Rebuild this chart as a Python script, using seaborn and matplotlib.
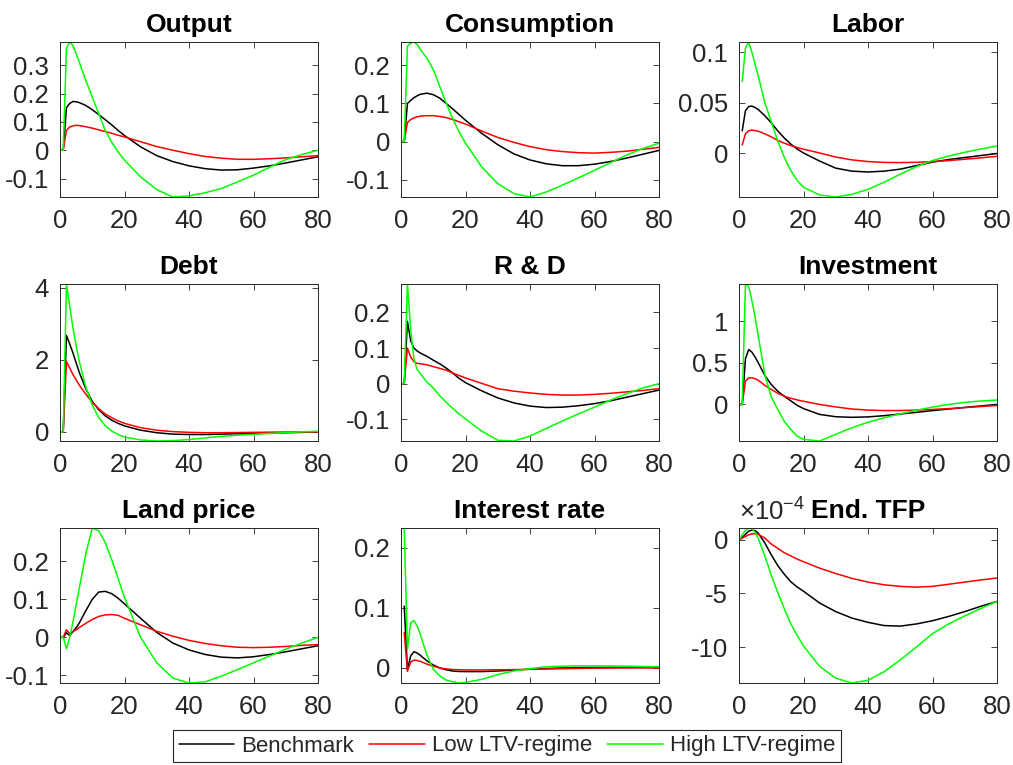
import numpy as np
import pandas as pd
import matplotlib
matplotlib.use("Agg")
import matplotlib.pyplot as plt
from matplotlib.lines import Line2D
from matplotlib import ticker
import seaborn as sns

nan = np.nan
T = [0, 1, 2, 3, 4, 5, 6, 8, 10, 12, 14, 16, 18, 20, 25, 30, 35, 40, 45, 50, 55, 60, 65, 70, 75, 80]
regimes = ["Benchmark", "Low LTV-regime", "High LTV-regime"]
colors = ["#000000", "#FF0000", "#00FF00"]

output_bench = [0, 0, 0.150, 0.165, 0.172, 0.171, 0.168, 0.158, 0.143, 0.126, 0.108, 0.090, 0.070, 0.052, 0.012, -0.019, -0.040, -0.055, -0.065, -0.070, -0.069, -0.063, -0.055, -0.045, -0.034, -0.023]
output_low = [0, 0, 0.070, 0.082, 0.086, 0.088, 0.087, 0.083, 0.078, 0.072, 0.066, 0.060, 0.053, 0.047, 0.030, 0.013, 0.000, -0.012, -0.022, -0.028, -0.032, -0.032, -0.030, -0.027, -0.023, -0.019]
output_high = [0, 0, 0.360, 0.382, 0.370, 0.341, 0.310, 0.247, 0.188, 0.129, 0.071, 0.029, -0.006, -0.035, -0.094, -0.139, -0.165, -0.161, -0.150, -0.135, -0.112, -0.088, -0.060, -0.033, -0.015, 0.000]

cons_bench = [0, 0, 0.100, 0.108, 0.115, 0.120, 0.124, 0.127, 0.123, 0.114, 0.100, 0.086, 0.071, 0.056, 0.022, -0.008, -0.032, -0.048, -0.058, -0.063, -0.063, -0.059, -0.052, -0.043, -0.033, -0.023]
cons_low = [0, 0, 0.050, 0.058, 0.062, 0.065, 0.067, 0.068, 0.068, 0.066, 0.063, 0.058, 0.052, 0.046, 0.028, 0.011, -0.002, -0.013, -0.021, -0.026, -0.029, -0.030, -0.028, -0.025, -0.020, -0.015]
cons_high = [0, 0, 0.250, 0.258, 0.261, 0.255, 0.241, 0.219, 0.189, 0.145, 0.101, 0.061, 0.026, -0.004, -0.066, -0.110, -0.136, -0.145, -0.132, -0.114, -0.095, -0.075, -0.055, -0.035, -0.018, -0.004]

labor_bench = [nan, 0.022, 0.042, 0.046, 0.0465, 0.045, 0.043, 0.037, 0.030, 0.022, 0.015, 0.009, 0.004, 0.000, -0.008, -0.015, -0.018, -0.0188, -0.018, -0.016, -0.0125, -0.009, -0.0065, -0.0045, -0.0025, -0.0005]
labor_low = [nan, 0.008, 0.019, 0.022, 0.0227, 0.0222, 0.0215, 0.019, 0.016, 0.0125, 0.0098, 0.0075, 0.0055, 0.0038, 0.000, -0.004, -0.0068, -0.0085, -0.0093, -0.0095, -0.0092, -0.0085, -0.0075, -0.0062, -0.0048, -0.0033]
labor_high = [nan, 0.071, 0.104, 0.110, 0.100, 0.088, 0.076, 0.050, 0.031, 0.012, -0.004, -0.017, -0.027, -0.034, -0.0415, -0.0436, -0.041, -0.036, -0.029, -0.021, -0.0135, -0.0075, -0.003, 0.0007, 0.004, 0.0069]

debt_bench = [0, 0, 2.68, 2.45, 2.20, 1.92, 1.65, 1.20, 0.85, 0.62, 0.45, 0.33, 0.24, 0.17, 0.05, -0.02, -0.06, -0.07, -0.07, -0.06, -0.05, -0.04, -0.03, -0.02, -0.01, 0.0]
debt_low = [0, 0, 1.95, 1.78, 1.60, 1.45, 1.30, 1.05, 0.82, 0.65, 0.50, 0.40, 0.31, 0.24, 0.12, 0.05, 0.01, -0.01, -0.02, -0.02, -0.015, -0.01, -0.005, 0.0, 0.0, 0.0]
debt_high = [0, 0, 4.11, 3.50, 2.90, 2.40, 1.95, 1.25, 0.75, 0.40, 0.18, 0.03, -0.07, -0.14, -0.22, -0.25, -0.24, -0.21, -0.165, -0.12, -0.09, -0.065, -0.04, -0.015, 0.005, 0.02]

rd_bench = [0, 0, 0.175, 0.120, 0.100, 0.092, 0.086, 0.077, 0.066, 0.056, 0.044, 0.030, 0.015, 0.003, -0.020, -0.040, -0.054, -0.063, -0.067, -0.066, -0.062, -0.056, -0.048, -0.038, -0.028, -0.018]
rd_low = [0, 0, 0.100, 0.075, 0.062, 0.057, 0.056, 0.053, 0.048, 0.043, 0.038, 0.030, 0.023, 0.016, 0.001, -0.014, -0.021, -0.026, -0.030, -0.032, -0.032, -0.030, -0.027, -0.023, -0.019, -0.014]
rd_high = [0, 0, 0.280, 0.150, 0.070, 0.040, 0.028, 0.005, -0.012, -0.034, -0.052, -0.069, -0.085, -0.099, -0.133, -0.159, -0.161, -0.147, -0.126, -0.105, -0.085, -0.066, -0.046, -0.028, -0.012, 0.000]

inv_bench = [0, 0, 0.55, 0.66, 0.63, 0.57, 0.50, 0.35, 0.24, 0.16, 0.10, 0.045, -0.01, -0.05, -0.12, -0.148, -0.155, -0.150, -0.135, -0.115, -0.095, -0.074, -0.055, -0.036, -0.018, 0.0]
inv_low = [0, 0, 0.28, 0.32, 0.32, 0.31, 0.29, 0.23, 0.18, 0.135, 0.10, 0.075, 0.055, 0.038, 0.0, -0.03, -0.055, -0.068, -0.073, -0.073, -0.068, -0.060, -0.050, -0.038, -0.025, -0.012]
inv_high = [0, 0, 1.45, 1.42, 1.25, 1.05, 0.82, 0.36, 0.09, -0.06, -0.20, -0.30, -0.38, -0.42, -0.44, -0.36, -0.28, -0.215, -0.16, -0.113, -0.07, -0.032, 0.0, 0.025, 0.042, 0.053]

land_bench = [0, 0, 0.012, 0.005, 0.015, 0.025, 0.038, 0.070, 0.100, 0.119, 0.121, 0.115, 0.103, 0.088, 0.050, 0.013, -0.015, -0.033, -0.045, -0.052, -0.054, -0.051, -0.045, -0.038, -0.030, -0.022]
land_low = [0, 0, 0.020, 0.010, 0.015, 0.020, 0.026, 0.037, 0.047, 0.055, 0.059, 0.060, 0.058, 0.050, 0.033, 0.016, 0.003, -0.008, -0.016, -0.022, -0.026, -0.027, -0.026, -0.024, -0.021, -0.019]
land_high = [0, 0, -0.030, 0.000, 0.040, 0.085, 0.130, 0.220, 0.2875, 0.280, 0.250, 0.205, 0.155, 0.105, 0.000, -0.067, -0.107, -0.120, -0.117, -0.102, -0.085, -0.067, -0.049, -0.031, -0.015, 0.000]

rate_bench = [nan, 0.103, -0.003, 0.020, 0.027, 0.025, 0.021, 0.012, 0.005, 0.000, -0.003, -0.005, -0.0058, -0.006, -0.006, -0.005, -0.0035, -0.002, -0.001, 0.0, 0.0005, 0.0008, 0.0009, 0.0009, 0.0008, 0.0007]
rate_low = [nan, 0.059, -0.0055, 0.010, 0.013, 0.0125, 0.011, 0.0065, 0.003, 0.000, -0.0015, -0.0025, -0.003, -0.0032, -0.0032, -0.003, -0.0027, -0.0022, -0.0017, -0.0012, -0.0007, -0.0003, 0.0, 0.0002, 0.0002, 0.0002]
rate_high = [nan, 0.233, 0.031, 0.075, 0.079, 0.070, 0.056, 0.022, -0.002, -0.013, -0.020, -0.023, -0.025, -0.024, -0.019, -0.011, -0.005, -0.001, 0.002, 0.003, 0.0035, 0.0035, 0.0033, 0.003, 0.0025, 0.002]

# End. TFP values, in units of 1e-4
tfp_bench = [0, 0.2, 0.5, 0.8, 0.9, 0.85, 0.6, -0.3, -1.4, -2.4, -3.2, -3.9, -4.4, -4.8, -5.9, -6.7, -7.3, -7.7, -8.0, -8.05, -7.85, -7.55, -7.15, -6.7, -6.2, -5.75]
tfp_low = [0, 0.15, 0.3, 0.45, 0.55, 0.55, 0.5, 0.15, -0.4, -0.8, -1.2, -1.5, -1.8, -2.05, -2.65, -3.15, -3.6, -3.95, -4.2, -4.35, -4.42, -4.35, -4.15, -3.95, -3.75, -3.57]
tfp_high = [0, 0.45, 0.85, 1.09, 1.0, 0.7, 0.1, -1.5, -3.3, -4.9, -6.4, -7.8, -8.9, -9.9, -11.8, -12.9, -13.35, -13.1, -12.3, -11.2, -10.0, -8.75, -7.85, -7.1, -6.4, -5.75]

titles = ["Output", "Consumption", "Labor", "Debt", "R & D", "Investment",
          "Land price", "Interest rate", "End. TFP"]
series = [
    (output_bench, output_low, output_high),
    (cons_bench, cons_low, cons_high),
    (labor_bench, labor_low, labor_high),
    (debt_bench, debt_low, debt_high),
    (rd_bench, rd_low, rd_high),
    (inv_bench, inv_low, inv_high),
    (land_bench, land_low, land_high),
    (rate_bench, rate_low, rate_high),
    (tfp_bench, tfp_low, tfp_high),
]
yticks = [
    [-0.1, 0, 0.1, 0.2, 0.3],
    [-0.1, 0, 0.1, 0.2],
    [0, 0.05, 0.1],
    [0, 2, 4],
    [-0.1, 0, 0.1, 0.2],
    [0, 0.5, 1],
    [-0.1, 0, 0.1, 0.2],
    [0, 0.1, 0.2],
    [-10, -5, 0],
]
xticks = [0, 20, 40, 60, 80]

sns.set_style("ticks")
plt.rcParams["font.family"] = ["Liberation Sans", "DejaVu Sans"]
plt.rcParams["axes.unicode_minus"] = False
plt.rcParams["mathtext.fontset"] = "custom"
plt.rcParams["mathtext.rm"] = "Liberation Sans"

W, H = 1013, 765
fig = plt.figure(figsize=(W / 100, H / 100), dpi=100)
fig.patch.set_facecolor("white")

col_left = [60, 401, 739]
row_top = [42, 284, 528]
row_bot = [197, 441, 683]
axw = 258
gray = "#262626"

def fmt(v, p):
    v = round(v, 10)
    if v == 0:
        return "0"
    return f"{v:g}"

for i in range(9):
    r, c = divmod(i, 3)
    left = col_left[c] / W
    bottom = 1 - row_bot[r] / H
    height = (row_bot[r] - row_top[r]) / H
    ax = fig.add_axes([left, bottom, axw / W, height])
    b, l, h = series[i]
    df = pd.DataFrame({
        "t": T * 3,
        "v": list(b) + list(l) + list(h),
        "regime": [regimes[0]] * len(T) + [regimes[1]] * len(T) + [regimes[2]] * len(T),
    }).dropna()
    sns.lineplot(data=df, x="t", y="v", hue="regime", hue_order=regimes,
                 palette=colors, estimator=None, sort=False, legend=False,
                 linewidth=1.1, ax=ax)
    ax.set_xlim(0, 80)
    ax.set_ylim(df["v"].min(), df["v"].max())
    ax.set_xticks(xticks)
    ax.set_yticks(yticks[i])
    ax.yaxis.set_major_formatter(ticker.FuncFormatter(fmt))
    ax.set_xlabel("")
    ax.set_ylabel("")
    ax.set_title(titles[i], fontsize=19, fontweight="bold", color="black", pad=7)
    ax.tick_params(direction="in", top=True, right=True, length=4, width=0.6,
                   colors=gray, labelsize=18.5, pad=8)
    ax.tick_params(axis="x", pad=9)
    for s in ax.spines.values():
        s.set_color(gray)
        s.set_linewidth(0.7)
        s.set_visible(True)
    if i == 8:
        ax.text(0.0, 1.015, r"$\mathregular{\times10^{-4}}$", transform=ax.transAxes,
                ha="left", va="bottom", fontsize=18.5, color=gray)

handles = [Line2D([0], [0], color=c, lw=1.1) for c in colors]
leg = fig.legend(handles, regimes, loc="center", bbox_to_anchor=(507 / W, 1 - 746 / H),
                 ncol=3, fontsize=16, frameon=True, fancybox=False, framealpha=1,
                 edgecolor=gray, handlelength=2.5, handletextpad=0.3,
                 columnspacing=0.7, borderpad=0.25)
leg.get_frame().set_linewidth(0.8)

fig.savefig("out.png", dpi=100, facecolor="white")
